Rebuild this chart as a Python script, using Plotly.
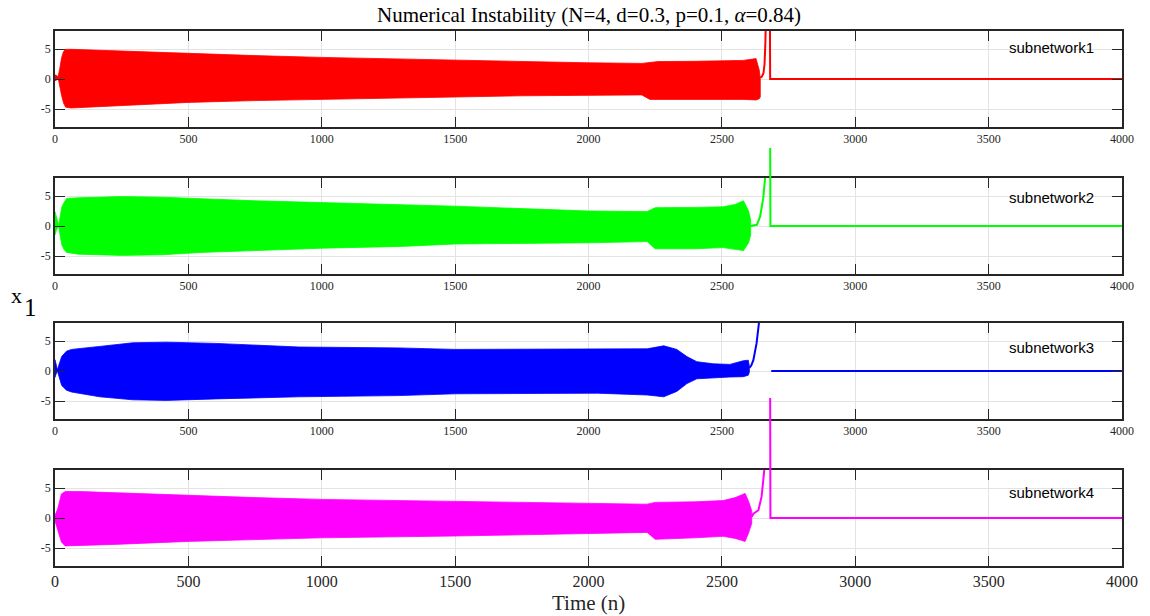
import plotly.graph_objects as go

# ---------------- data ----------------
x_tick_vals = [0, 500, 1000, 1500, 2000, 2500, 3000, 3500, 4000]
x_tick_text = ["0", "500", "1000", "1500", "2000", "2500", "3000", "3500", "4000"]
y_tick_vals = [-5, 0, 5]
y_tick_text = ["-5", "0", "5"]

names = ["subnetwork1", "subnetwork2", "subnetwork3", "subnetwork4"]
colors = ["#ff0000", "#00ff00", "#0000ff", "#ff00ff"]
label_y = [5.2, 4.7, 4.0, 4.2]

# envelopes of the dense oscillation (time, upper, lower)
red_t = [0, 5, 12, 18, 25, 32, 40, 60, 150, 300, 500, 750, 1000, 1250, 1500,
         1750, 2000, 2200, 2230, 2260, 2400, 2500, 2580, 2628, 2640, 2644]
red_up = [0.7, 0.6, 0.4, 1.8, 3.6, 4.6, 4.95, 4.95, 4.8, 4.6, 4.3, 3.9, 3.6, 3.35, 3.2,
          2.9, 2.7, 2.6, 2.8, 2.9, 2.95, 3.0, 3.1, 3.4, 1.5, 0.0]
red_lo = [-0.3, -0.2, 0.1, -1.0, -2.8, -4.0, -4.7, -4.83, -4.6, -4.3, -3.9, -3.6, -3.33, -3.2, -3.0,
          -2.8, -2.7, -2.65, -3.4, -3.5, -3.4, -3.4, -3.4, -3.5, -3.3, -3.0]

green_t = [0, 6, 14, 20, 26, 35, 44, 88, 250, 400, 550, 750, 1000, 1300, 1500,
           1750, 2000, 2220, 2250, 2400, 2505, 2550, 2581, 2600, 2608]
green_up = [2.4, 1.2, 0.1, 1.8, 3.2, 4.0, 4.6, 4.7, 4.9, 4.8, 4.5, 4.2, 3.9, 3.6, 3.3,
            2.9, 2.5, 2.4, 3.05, 3.1, 3.2, 3.6, 4.2, 2.5, 1.0]
green_lo = [-1.5, -0.6, -0.1, -1.8, -3.2, -4.0, -4.4, -4.7, -4.9, -4.8, -4.4, -4.1, -3.7, -3.4, -3.0,
            -2.9, -2.8, -2.6, -3.8, -3.8, -3.6, -3.9, -4.1, -2.8, -1.5]

blue_t = [0, 4, 9, 16, 25, 43, 62, 168, 292, 417, 603, 914, 1287, 1500, 2000,
          2034, 2220, 2282, 2331, 2369, 2406, 2468, 2530, 2580, 2599, 2603]
blue_up = [1.9, 1.0, 0.2, 1.2, 2.4, 3.3, 3.6, 4.1, 4.7, 4.8, 4.6, 4.0, 3.85, 3.6, 3.6,
           3.6, 3.7, 4.2, 3.6, 2.4, 1.55, 1.2, 1.1, 1.7, 1.8, 0.8]
blue_lo = [-1.1, -0.5, 0.0, -1.2, -2.4, -3.2, -3.5, -4.3, -4.8, -4.9, -4.65, -4.3, -4.1, -3.8, -3.7,
           -3.7, -4.0, -4.3, -3.4, -2.1, -1.3, -1.1, -1.0, -0.95, -0.7, -0.2]

mag_t = [0, 10, 24, 38, 100, 223, 500, 750, 1000, 1250, 1500, 1750, 2024,
         2220, 2250, 2400, 2505, 2550, 2587, 2600, 2612]
mag_up = [0.45, 1.5, 4.0, 4.4, 4.4, 4.2, 3.8, 3.4, 3.1, 2.95, 2.8, 2.6, 2.4,
          2.3, 2.6, 2.7, 2.9, 3.4, 4.1, 2.8, 1.2]
mag_lo = [-0.5, -1.8, -4.0, -4.65, -4.6, -4.4, -3.9, -3.6, -3.3, -3.15, -3.0, -2.8, -2.6,
          -2.4, -3.55, -3.3, -3.05, -3.4, -3.9, -2.5, -0.9]

# thin trajectories after the oscillation (blow-up, then collapse to zero)
red_tail_t = [2644, 2650, 2656, 2660, 2663, 2666, 2680, 2681, 4000]
red_tail_y = [0.2, 0.4, 1.0, 2.5, 6.0, 12.0, 12.0, 0.0, 0.0]

green_rise_t = [2608, 2620, 2631, 2643, 2655, 2662, 2665]
green_rise_y = [0.0, 0.1, 0.2, 1.5, 4.6, 8.0, 12.0]
green_spike_t = [2681, 2682, 4000]
green_spike_y = [13.0, 0.0, 0.0]

blue_rise_t = [2603, 2610, 2618, 2630, 2639, 2642]
blue_rise_y = [0.5, 0.9, 1.8, 4.6, 8.0, 12.0]
blue_flat_t = [2685, 4000]
blue_flat_y = [0.0, 0.0]

mag_rise_t = [2612, 2618, 2637, 2649, 2659, 2662]
mag_rise_y = [0.2, 0.7, 1.3, 3.6, 8.0, 12.0]
mag_spike_t = [2681, 2682, 4000]
mag_spike_y = [20.0, 0.0, 0.0]

# ---------------- layout geometry ----------------
W, H = 1150, 616
ml, mr, mt, mb = 55, 23, 31, 50
ph = H - mt - mb  # plot-area height in px


def frac(px_from_top):
    return (H - mb - px_from_top) / ph


domains = [
    [frac(127), 1.0],
    [frac(274), frac(178)],
    [frac(419), frac(323)],
    [0.0, frac(470)],
]

fig = go.Figure()

bands = [(red_t, red_up, red_lo), (green_t, green_up, green_lo),
         (blue_t, blue_up, blue_lo), (mag_t, mag_up, mag_lo)]

for i, (tt, up, lo) in enumerate(bands):
    xa = "x" if i == 0 else f"x{i+1}"
    ya = "y" if i == 0 else f"y{i+1}"
    fig.add_trace(go.Scatter(
        x=list(tt) + list(tt)[::-1], y=list(up) + list(lo)[::-1],
        fill="toself", fillcolor=colors[i], mode="lines",
        line=dict(color=colors[i], width=0.8), xaxis=xa, yaxis=ya,
        showlegend=False, hoverinfo="skip"))

line_w = 2
# subnetwork 1
fig.add_trace(go.Scatter(x=red_tail_t, y=red_tail_y, mode="lines",
                         line=dict(color=colors[0], width=line_w),
                         xaxis="x", yaxis="y", showlegend=False))
# subnetwork 2
fig.add_trace(go.Scatter(x=green_rise_t, y=green_rise_y, mode="lines",
                         line=dict(color=colors[1], width=line_w),
                         xaxis="x2", yaxis="y2", showlegend=False))
fig.add_trace(go.Scatter(x=green_spike_t, y=green_spike_y, mode="lines",
                         line=dict(color=colors[1], width=line_w),
                         xaxis="x5", yaxis="y5", showlegend=False))
# subnetwork 3
fig.add_trace(go.Scatter(x=blue_rise_t, y=blue_rise_y, mode="lines",
                         line=dict(color=colors[2], width=line_w),
                         xaxis="x3", yaxis="y3", showlegend=False))
fig.add_trace(go.Scatter(x=blue_flat_t, y=blue_flat_y, mode="lines",
                         line=dict(color=colors[2], width=line_w),
                         xaxis="x3", yaxis="y3", showlegend=False))
# subnetwork 4
fig.add_trace(go.Scatter(x=mag_rise_t, y=mag_rise_y, mode="lines",
                         line=dict(color=colors[3], width=line_w),
                         xaxis="x4", yaxis="y4", showlegend=False))
fig.add_trace(go.Scatter(x=mag_spike_t, y=mag_spike_y, mode="lines",
                         line=dict(color=colors[3], width=line_w),
                         xaxis="x6", yaxis="y6", showlegend=False))

axis_col = "#262626"
grid_col = "#e3e3e3"
serif = "Liberation Serif"

layout = dict(
    width=W, height=H,
    margin=dict(l=ml, r=mr, t=mt, b=mb),
    paper_bgcolor="white", plot_bgcolor="rgba(0,0,0,0)",
    showlegend=False,
)

for i in range(4):
    kx = "xaxis" if i == 0 else f"xaxis{i+1}"
    ky = "yaxis" if i == 0 else f"yaxis{i+1}"
    xa_id = "x" if i == 0 else f"x{i+1}"
    ya_id = "y" if i == 0 else f"y{i+1}"
    bottom = (i == 3)
    layout[kx] = dict(
        domain=[0, 1], anchor=ya_id, range=[0, 4000],
        tickvals=x_tick_vals, ticktext=x_tick_text,
        ticks="inside", ticklen=10, tickwidth=1.3, tickcolor=axis_col,
        showline=True, linecolor=axis_col, linewidth=1.5, mirror="ticks",
        showgrid=True, gridcolor=grid_col, gridwidth=1, zeroline=False,
        tickfont=dict(family=serif, size=16 if bottom else 12, color="#262626"),
        fixedrange=True,
    )
    layout[ky] = dict(
        domain=domains[i], anchor=xa_id, range=[-8, 8],
        tickvals=y_tick_vals, ticktext=y_tick_text,
        ticks="inside", ticklen=10, tickwidth=1.3, tickcolor=axis_col,
        showline=True, linecolor=axis_col, linewidth=1.5, mirror="ticks",
        showgrid=True, gridcolor=grid_col, gridwidth=1, zeroline=False,
        tickfont=dict(family=serif, size=12, color="#262626"),
        fixedrange=True,
    )

# extended invisible axes so the spikes can run above their panels
px_per_unit = (domains[1][1] - domains[1][0]) * ph / 16.0
ext2_top = frac(140)
ext4_top = frac(390)
layout["xaxis5"] = dict(domain=[0, 1], range=[0, 4000], anchor="y5", visible=False, fixedrange=True)
layout["yaxis5"] = dict(domain=[domains[1][0], ext2_top], anchor="x5", visible=False,
                        range=[-8, -8 + (ext2_top - domains[1][0]) * ph / px_per_unit], fixedrange=True)
layout["xaxis6"] = dict(domain=[0, 1], range=[0, 4000], anchor="y6", visible=False, fixedrange=True)
layout["yaxis6"] = dict(domain=[0, ext4_top], anchor="x6", visible=False,
                        range=[-8, -8 + ext4_top * ph / px_per_unit], fixedrange=True)

fig.update_layout(**layout)

annotations = [
    dict(text="Numerical Instability (N=4, d=0.3, p=0.1, <i>α</i>=0.84)",
         xref="paper", yref="paper", x=0.5, y=1.0, yshift=2,
         xanchor="center", yanchor="bottom", showarrow=False,
         font=dict(family=serif, size=21, color="black")),
    dict(text="Time (n)", xref="paper", yref="paper", x=0.5, y=0, yshift=-23,
         xanchor="center", yanchor="top", showarrow=False,
         font=dict(family=serif, size=21, color="#262626")),
    dict(text="x", xref="paper", yref="paper", x=(16 - ml) / (W - ml - mr), y=frac(295),
         xanchor="center", yanchor="middle", showarrow=False,
         font=dict(family=serif, size=22, color="black")),
    dict(text="1", xref="paper", yref="paper", x=(30 - ml) / (W - ml - mr), y=frac(307),
         xanchor="center", yanchor="middle", showarrow=False,
         font=dict(family=serif, size=25, color="black")),
]
for i in range(4):
    xa_id = "x" if i == 0 else f"x{i+1}"
    ya_id = "y" if i == 0 else f"y{i+1}"
    annotations.append(dict(
        text=names[i], xref=f"{xa_id} domain", yref=ya_id,
        x=(1101 - ml) / (W - ml - mr), y=label_y[i],
        xanchor="right", yanchor="middle", showarrow=False,
        font=dict(family="Liberation Sans", size=15, color="black")))

fig.update_layout(annotations=annotations)

fig.write_html("out.html")
